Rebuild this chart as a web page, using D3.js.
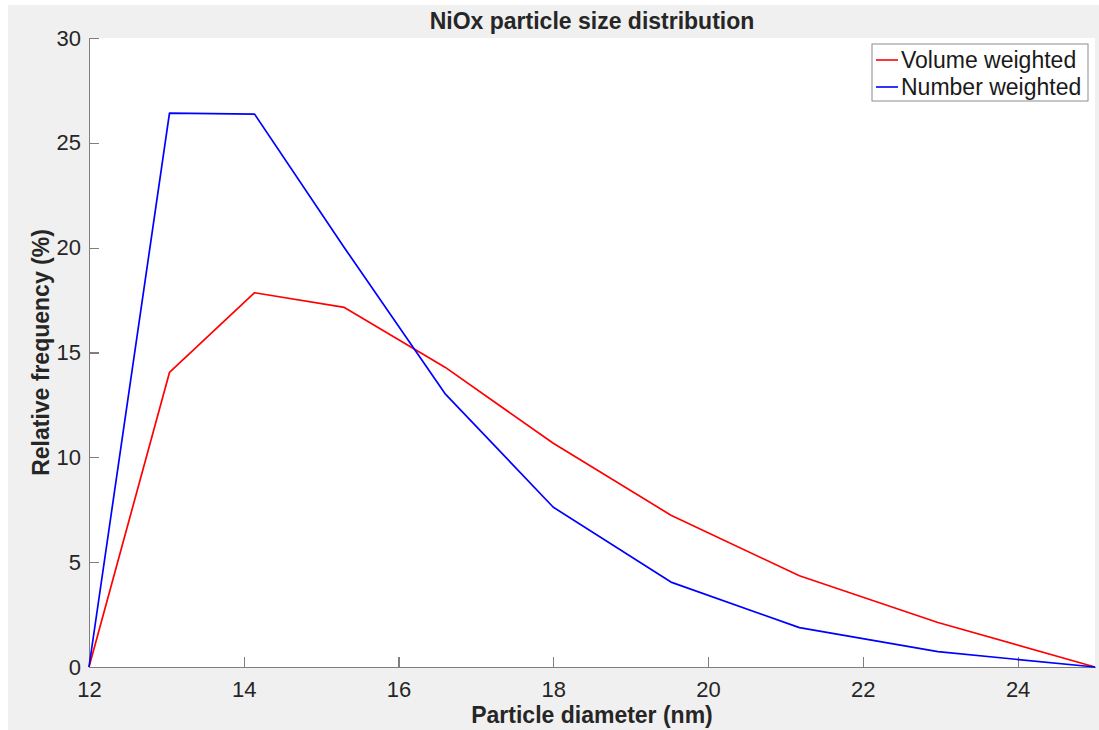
<!DOCTYPE html>
<head>
<meta charset="utf-8">
<style>
body { margin: 0; background: #fff; font-family: "Liberation Sans", Arial, sans-serif; }
.axis path, .axis line { stroke: #7f7f7f; stroke-width: 1.2; shape-rendering: crispEdges; }
.axis text { fill: #262626; font-size: 22px; font-family: "Liberation Sans", Arial, sans-serif; }
.label { font-size: 23px; font-weight: bold; fill: #262626; text-anchor: middle; }
.legend text { font-size: 23px; fill: #1a1a1a; }
</style>
</head>
<body>
<script src="https://cdn.jsdelivr.net/npm/d3@7"></script>
<script>

// particle diameter (nm) for each bin
var diameters = [12, 13.04, 14.14, 15.3, 16.6, 18.0, 19.52, 21.18, 22.97, 25];
// relative frequency (%)
var volumeWeighted = [0, 14.05, 17.85, 17.15, 14.3, 10.67, 7.24, 4.35, 2.12, 0];
var numberWeighted = [0, 26.42, 26.37, 20.0, 13.04, 7.62, 4.05, 1.88, 0.73, 0];

var xTicks = [12, 14, 16, 18, 20, 22, 24];
var yTicks = [0, 5, 10, 15, 20, 25, 30];

var series = [
    {name: "Volume weighted", color: "#ff0000", values: volumeWeighted},
    {name: "Number weighted", color: "#0000ff", values: numberWeighted}
];

var W = 1099, H = 730;
var margin = {top: 38, right: 4, bottom: 63, left: 89},
    width = W - margin.left - margin.right,
    height = H - margin.top - margin.bottom;

var svg = d3.select("body").append("svg")
    .attr("width", W)
    .attr("height", H);

// figure background
svg.append("rect")
    .attr("x", 8).attr("y", 5)
    .attr("width", W - 8).attr("height", H - 5)
    .attr("fill", "#f0f0f0");

var g = svg.append("g")
    .attr("transform", "translate(" + margin.left + "," + margin.top + ")");

var x = d3.scaleLinear().domain([12, 25]).range([0, width]);
var y = d3.scaleLinear().domain([0, 30]).range([height, 0]);

// axes area
g.append("rect")
    .attr("width", width)
    .attr("height", height)
    .attr("fill", "#fff");

// x axis, ticks pointing inward
var xAxis = g.append("g")
    .attr("class", "axis")
    .attr("transform", "translate(0," + height + ")")
    .call(d3.axisBottom(x).tickValues(xTicks).tickSize(-10).tickSizeOuter(0));
xAxis.selectAll("text").attr("dy", "0.75em").attr("y", 13);

// y axis
var yAxis = g.append("g")
    .attr("class", "axis")
    .call(d3.axisLeft(y).tickValues(yTicks).tickSize(-10).tickSizeOuter(0));
yAxis.selectAll("text").attr("x", -8);

// lines
var line = d3.line()
    .x(function(d, i) { return x(diameters[i]); })
    .y(function(d) { return y(d); });

series.forEach(function(s) {
    g.append("path")
        .attr("d", line(s.values))
        .attr("fill", "none")
        .attr("stroke", s.color)
        .attr("stroke-width", 1.7)
        .attr("stroke-linejoin", "round");
});

// title and labels
svg.append("text")
    .attr("class", "label")
    .attr("x", margin.left + width / 2)
    .attr("y", 29)
    .text("NiOx particle size distribution");

svg.append("text")
    .attr("class", "label")
    .attr("x", margin.left + width / 2)
    .attr("y", 723)
    .text("Particle diameter (nm)");

svg.append("text")
    .attr("class", "label")
    .attr("transform", "translate(49," + (margin.top + height / 2) + ") rotate(-90)")
    .text("Relative frequency (%)");

// legend
var legend = svg.append("g").attr("class", "legend")
    .attr("transform", "translate(872,44)");

legend.append("rect")
    .attr("width", 216)
    .attr("height", 57)
    .attr("fill", "#fff")
    .attr("stroke", "#8c8c8c")
    .attr("stroke-width", 1);

series.forEach(function(s, i) {
    var ly = 16 + i * 27;
    legend.append("line")
        .attr("x1", 4).attr("x2", 26)
        .attr("y1", ly).attr("y2", ly)
        .attr("stroke", s.color)
        .attr("stroke-width", 1.6);
    legend.append("text")
        .attr("x", 29)
        .attr("y", ly + 8)
        .text(s.name);
});

</script>
</body>
